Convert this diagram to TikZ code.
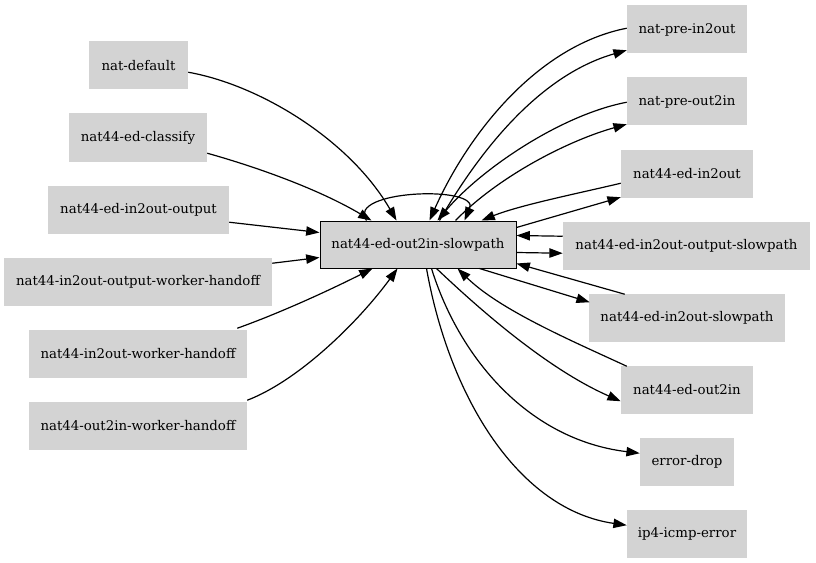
\documentclass[tikz,border=0pt]{standalone}
\usepackage{fontspec}
\setmainfont{DejaVu Serif}
\usetikzlibrary{arrows.meta,calc}
\definecolor{gvgray}{RGB}{211,211,211}
\begin{document}
\begin{tikzpicture}[x=0.75pt,y=-0.75pt,
  box/.style={fill=gvgray,draw=none,minimum height=36pt,inner sep=0pt,font=\fontsize{10}{12}\selectfont},
  mainbox/.style={box,draw=black,line width=0.75pt,minimum height=35.25pt},
  edge/.style={line width=0.9pt,-{Triangle[length=10pt,width=7pt]}}]
\useasboundingbox (0,0) rectangle (816,563);
% left nodes
\node[box,minimum width=74.25pt] (ndef) at (138.5,65.5) {nat-default};
\node[box,minimum width=103.5pt] (ncls) at (138,137.5) {nat44-ed-classify};
\node[box,minimum width=135.75pt] (nio) at (138.5,209.5) {nat44-ed-in2out-output};
\node[box,minimum width=201pt] (niowh) at (138,281.5) {nat44-in2out-output-worker-handoff};
\node[box,minimum width=163.5pt] (niwh) at (138,353.5) {nat44-in2out-worker-handoff};
\node[box,minimum width=163.5pt] (nowh) at (138,425.5) {nat44-out2in-worker-handoff};
% center
\node[mainbox,minimum width=147pt] (c) at (418,244.5) {nat44-ed-out2in-slowpath};
% right nodes
\node[box,minimum width=90pt] (npi) at (687,29.5) {nat-pre-in2out};
\node[box,minimum width=90pt] (npo) at (687,101.5) {nat-pre-out2in};
\node[box,minimum width=99pt] (nei) at (687,173.5) {nat44-ed-in2out};
\node[box,minimum width=185.25pt] (neios) at (686.5,245.5) {nat44-ed-in2out-output-slowpath};
\node[box,minimum width=147pt] (neis) at (687,317.5) {nat44-ed-in2out-slowpath};
\node[box,minimum width=99pt] (neo) at (687,389.5) {nat44-ed-out2in};
\node[box,minimum width=70.5pt] (ed) at (687,461.5) {error-drop};
\node[box,minimum width=90pt] (icmp) at (687,533.5) {ip4-icmp-error};
% left edges
\draw[edge] ($(ndef.north east)+(0,31)$) .. controls (260,85) and (350,140) .. ($(c.north west)+(77,0)$);
\draw[edge] ($(ncls.north east)+(0,40)$) .. controls (260,168) and (320,190) .. ($(c.north west)+(52,0)$);
\draw[edge] ($(nio.north east)+(0,37)$) -- ($(c.north west)+(0,12)$);
\draw[edge] ($(niowh.north east)+(0,6)$) -- ($(c.north west)+(0,37)$);
\draw[edge] ($(niwh.north east)+(-10,-1)$) .. controls (280,313) and (330,290) .. ($(c.south west)+(53,0)$);
\draw[edge] ($(nowh.north east)+(0,-1)$) .. controls (300,380) and (360,320) .. ($(c.south west)+(78,0)$);
% loop
\draw[edge] ($(c.north west)+(47,0)$) .. controls (345,190) and (480,185) .. ($(c.north west)+(145,0)$);
% right top edges
\draw[edge] ($(npi.north west)+(0,23)$) .. controls (540,45) and (470,130) .. ($(c.north west)+(110,0)$);
\draw[edge] ($(c.north west)+(120,0)$) .. controls (480,150) and (540,75) .. ($(npi.north west)+(0,45)$);
\draw[edge] ($(npo.north west)+(0,25)$) .. controls (560,115) and (480,170) .. ($(c.north west)+(118,0)$);
\draw[edge] ($(c.north west)+(136,0)$) .. controls (500,175) and (570,140) .. ($(npo.north west)+(0,47)$);
\draw[edge] ($(nei.north west)+(0,34)$) .. controls (580,193) and (520,205) .. ($(c.north west)+(162,0)$);
\draw[edge] ($(c.north east)+(0,7)$) -- ($(nei.north west)+(0,48)$);
\draw[edge] ($(neios.north west)+(0,15)$) -- ($(c.north east)+(0,15)$);
\draw[edge] ($(c.north east)+(0,32)$) -- ($(neios.north west)+(0,32)$);
\draw[edge] ($(neis.north west)+(36,1)$) -- ($(c.north east)+(0,43)$);
\draw[edge] ($(c.south west)+(160,0)$) -- ($(neis.north west)+(1,9)$);
% bottom edges
\draw[edge] ($(neo.north west)+(6,1)$) .. controls (570,340) and (500,310) .. ($(c.south west)+(138,0)$);
\draw[edge] ($(c.south west)+(117,0)$) .. controls (475,305) and (545,368) .. ($(neo.north west)+(0,36)$);
\draw[edge] ($(c.south west)+(112,0)$) .. controls (460,360) and (530,440) .. ($(ed.north west)+(0,16)$);
\draw[edge] ($(c.south west)+(107,0)$) .. controls (450,400) and (520,510) .. ($(icmp.north west)+(0,16)$);
\end{tikzpicture}
\end{document}
